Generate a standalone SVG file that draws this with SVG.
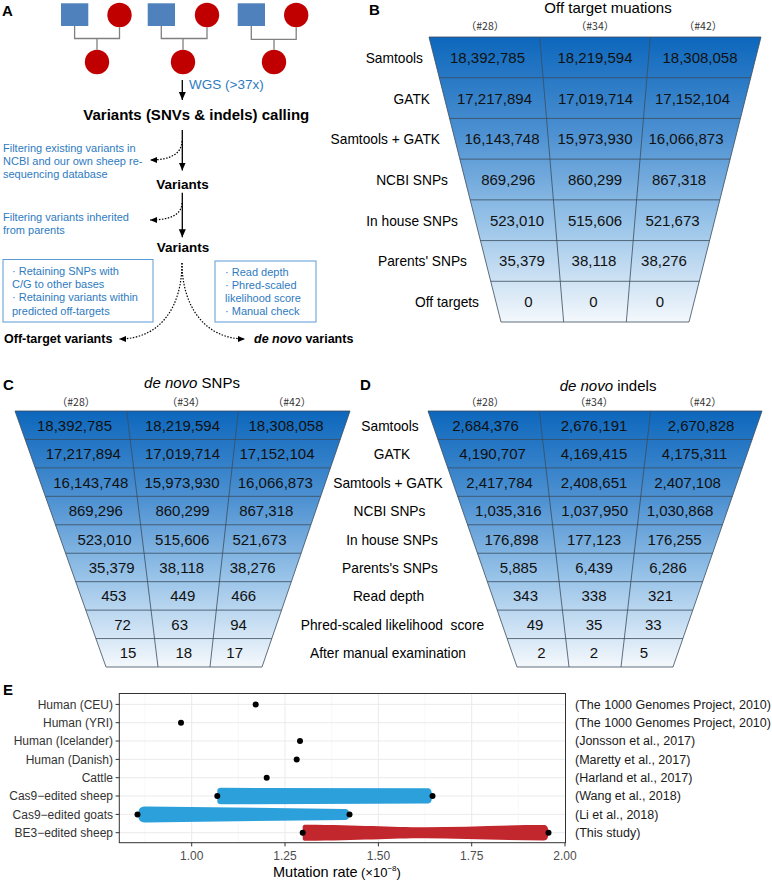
<svg xmlns="http://www.w3.org/2000/svg" width="772" height="881" viewBox="0 0 772 881">
<defs>
<linearGradient id="fg" x1="0" y1="0" x2="0" y2="1">
<stop offset="0" stop-color="#0d67bc"/>
<stop offset="0.35" stop-color="#4f92d2"/>
<stop offset="0.65" stop-color="#98c3e8"/>
<stop offset="1" stop-color="#f4f8fc"/>
</linearGradient>
<marker id="ah" markerUnits="userSpaceOnUse" markerWidth="9" markerHeight="8" refX="8" refY="3.5" orient="auto"><path d="M0,0 L8,3.5 L0,7 z" fill="#000"/></marker>
<marker id="ahs" markerUnits="userSpaceOnUse" markerWidth="8" markerHeight="7" refX="7" refY="3" orient="auto"><path d="M0,0 L7,3 L0,6 z" fill="#000"/></marker>
</defs>
<style>
text{font-family:"Liberation Sans",Arial,sans-serif}
.pl{font-size:15px;font-weight:bold;fill:#000}
.bt{font-size:11px;fill:#2e7bbf}
.bd{font-weight:bold;fill:#000}
.sq{fill:#4f81bd}
.ci{fill:#c00000}
.ped{fill:none;stroke:#808080;stroke-width:1.3}
.sa{fill:none;stroke:#000;stroke-width:1.3}
.da{fill:none;stroke:#000;stroke-width:1.2;stroke-dasharray:1.5 1.5}
.bx{fill:none;stroke:#5b9bd5;stroke-width:1}
.fun{fill:url(#fg);stroke:#3b4d5e;stroke-width:0.8}
.fl{stroke:#3b4d5e;stroke-width:0.8}
.num{font-size:15px;fill:#111;text-anchor:middle}
.lab{font-size:13.75px;fill:#000}
.hd{font-size:10.5px;fill:#333;text-anchor:middle;font-family:"Noto Sans CJK SC","Liberation Sans",sans-serif}
.ttl{font-size:15px;fill:#000;text-anchor:middle}
.cat{font-size:12px;fill:#333;text-anchor:end}
.ref{font-size:12.5px;fill:#1a1a1a}
.tk{font-size:12px;fill:#4d4d4d;text-anchor:middle}
.gmaj{stroke:#ebebeb;stroke-width:1}
.gmin{stroke:#f4f4f4;stroke-width:0.6}
.tick{stroke:#333;stroke-width:1}
.dot{fill:#000}
</style>

<!-- Panel A -->
<g id="panelA">
<text class="pl" x="2" y="16">A</text>
<g id="pedigree">
<rect class="sq" x="61" y="3.3" width="27.3" height="22.7"/>
<circle class="ci" cx="119.5" cy="15" r="12.2"/>
<circle class="ci" cx="97" cy="62" r="12.2"/>
<rect class="sq" x="147.7" y="3.3" width="27.3" height="22.7"/>
<circle class="ci" cx="207" cy="15" r="12.2"/>
<circle class="ci" cx="183" cy="62" r="12.2"/>
<rect class="sq" x="237.7" y="3.3" width="27.3" height="22.7"/>
<circle class="ci" cx="296.2" cy="15" r="12.2"/>
<circle class="ci" cx="274" cy="62" r="12.2"/>
</g>
<g id="pedigree-lines">
<path class="ped" d="M74.6,26 V38.5 H119.5 V27.2 M97,38.5 V49.8"/>
<path class="ped" d="M161.3,26 V38.5 H207 V27.2 M183,38.5 V49.8"/>
<path class="ped" d="M251.3,26 V39.3 H296.2 V27.2 M274,39.3 V49.8"/>
</g>
<g id="connectors">
<line class="sa" x1="182.3" y1="80" x2="182.3" y2="100" marker-end="url(#ah)"/>
<line class="sa" x1="182.3" y1="130" x2="182.3" y2="170.5" marker-end="url(#ah)"/>
<line class="sa" x1="182.3" y1="192.7" x2="182.3" y2="237.3" marker-end="url(#ah)"/>
<path class="da" d="M182,141 C181.5,153 172,160 150,160" marker-end="url(#ahs)"/>
<path class="da" d="M182,203 C181.5,214 172,220 150,220" marker-end="url(#ahs)"/>
<path class="da" d="M182,263 C182,305 162,339 119,339" marker-end="url(#ahs)"/>
<path class="da" d="M182,263 C182,305 204,339 245,339" marker-end="url(#ahs)"/>
</g>
<text x="189" y="89" style="font-size:13.5px;fill:#2e7bbf">WGS (&gt;37x)</text>
<g id="calling"><text class="bd" x="196.3" y="120" text-anchor="middle" style="font-size:15px">Variants (SNVs &amp; indels) calling</text></g>
<text class="bt" x="3" y="152">Filtering existing variants in</text>
<text class="bt" x="3" y="165">NCBI and our own sheep re-</text>
<text class="bt" x="3" y="178">sequencing database</text>
<g id="variants1"><text class="bd" x="182.5" y="189" text-anchor="middle" style="font-size:13.5px">Variants</text></g>
<text class="bt" x="3" y="221">Filtering variants inherited</text>
<text class="bt" x="3" y="234">from parents</text>
<g id="variants2"><text class="bd" x="183" y="252" text-anchor="middle" style="font-size:13.5px">Variants</text></g>
<g id="box-offtarget">
<rect class="bx" x="3" y="259.5" width="150" height="62.5"/>
<text class="bt" x="12" y="275">· Retaining SNPs with</text>
<text class="bt" x="12" y="288">C/G to other bases</text>
<text class="bt" x="12" y="301">· Retaining variants within</text>
<text class="bt" x="12" y="314.5">predicted off-targets</text>
</g>
<g id="box-denovo">
<rect class="bx" x="215" y="261" width="101" height="61"/>
<text class="bt" x="225" y="275.5">· Read depth</text>
<text class="bt" x="225" y="288.5">· Phred-scaled</text>
<text class="bt" x="225" y="302">likelihood score</text>
<text class="bt" x="225" y="315">· Manual check</text>
</g>
<g id="offtarget-variants"><text class="bd" x="4" y="343" style="font-size:12.5px">Off-target variants</text></g>
<g id="denovo-variants"><text class="bd" x="254" y="343" style="font-size:12.5px"><tspan font-style="italic">de novo</tspan> variants</text></g>
</g>

<!-- Panel B -->
<g id="panelB">
<text class="pl" x="369" y="15">B</text>
<text class="ttl" x="608" y="12.5">Off target muations</text>
<text class="hd" x="485" y="30">（#28）</text>
<text class="hd" x="595" y="30">（#34）</text>
<text class="hd" x="703" y="30">（#42）</text>
<path class="fun" d="M429,37 L761,37 L689,322 L501,322 Z"/>
<path class="fl" d="M439.29,77.71 H750.71 M449.57,118.43 H740.43 M459.86,159.14 H730.14 M470.14,199.86 H719.86 M480.43,240.57 H709.57 M490.71,281.29 H699.29 M539.67,37 L563.67,322 M650.33,37 L626.33,322"/>
<text class="lab" text-anchor="end" x="423" y="62.9">Samtools</text>
<text class="lab" text-anchor="end" x="430" y="103.6">GATK</text>
<text class="lab" text-anchor="end" x="440" y="144.3">Samtools + GATK</text>
<text class="lab" text-anchor="end" x="448" y="185">NCBI SNPs</text>
<text class="lab" text-anchor="end" x="458" y="225.7">In house SNPs</text>
<text class="lab" text-anchor="end" x="467" y="266.4">Parents' SNPs</text>
<text class="lab" text-anchor="end" x="479" y="307.1">Off targets</text>
<text class="num" x="487.5" y="62.9">18,392,785</text><text class="num" x="595" y="62.9">18,219,594</text><text class="num" x="700" y="62.9">18,308,058</text>
<text class="num" x="494.5" y="103.6">17,217,894</text><text class="num" x="595.5" y="103.6">17,019,714</text><text class="num" x="692.5" y="103.6">17,152,104</text>
<text class="num" x="502" y="144.3">16,143,748</text><text class="num" x="595" y="144.3">15,973,930</text><text class="num" x="686" y="144.3">16,066,873</text>
<text class="num" x="508.3" y="185">869,296</text><text class="num" x="595" y="185">860,299</text><text class="num" x="679" y="185">867,318</text>
<text class="num" x="517" y="225.7">523,010</text><text class="num" x="595" y="225.7">515,606</text><text class="num" x="672.5" y="225.7">521,673</text>
<text class="num" x="522" y="266.4">35,379</text><text class="num" x="594" y="266.4">38,118</text><text class="num" x="664" y="266.4">38,276</text>
<text class="num" x="528.5" y="307.1">0</text><text class="num" x="593.5" y="307.1">0</text><text class="num" x="660" y="307.1">0</text>
</g>

<!-- Panel C -->
<g id="panelC">
<text class="pl" x="3" y="390">C</text>
<text class="ttl" x="192" y="387.5"><tspan font-style="italic">de novo</tspan> SNPs</text>
<text class="hd" x="76" y="406">（#28）</text>
<text class="hd" x="186" y="406">（#34）</text>
<text class="hd" x="292" y="406">（#42）</text>
<path class="fun" d="M15,411 L350,411 L262,667 L106,667 Z"/>
<path class="fl" d="M25.11,439.44 H340.22 M35.22,467.89 H330.44 M45.33,496.33 H320.67 M55.44,524.78 H310.89 M65.56,553.22 H301.11 M75.67,581.67 H291.33 M85.78,610.11 H281.56 M95.89,638.56 H271.78 M126.67,411 L158,667 M238.33,411 L210,667"/>
<text class="num" x="74.5" y="430.7">18,392,785</text><text class="num" x="182.5" y="430.7">18,219,594</text><text class="num" x="286" y="430.7">18,308,058</text>
<text class="num" x="83.3" y="459.2">17,217,894</text><text class="num" x="182.5" y="459.2">17,019,714</text><text class="num" x="277" y="459.2">17,152,104</text>
<text class="num" x="90.8" y="487.6">16,143,748</text><text class="num" x="182" y="487.6">15,973,930</text><text class="num" x="275.3" y="487.6">16,066,873</text>
<text class="num" x="95.8" y="516.1">869,296</text><text class="num" x="182.5" y="516.1">860,299</text><text class="num" x="266.3" y="516.1">867,318</text>
<text class="num" x="104.5" y="544.5">523,010</text><text class="num" x="182.2" y="544.5">515,606</text><text class="num" x="259.5" y="544.5">521,673</text>
<text class="num" x="111.7" y="572.9">35,379</text><text class="num" x="181.7" y="572.9">38,118</text><text class="num" x="252.7" y="572.9">38,276</text>
<text class="num" x="113.8" y="601.4">453</text><text class="num" x="182.8" y="601.4">449</text><text class="num" x="243.7" y="601.4">466</text>
<text class="num" x="122.5" y="629.8">72</text><text class="num" x="179.7" y="629.8">63</text><text class="num" x="238.5" y="629.8">94</text>
<text class="num" x="128" y="658.3">15</text><text class="num" x="183.8" y="658.3">18</text><text class="num" x="234.7" y="658.3">17</text>
</g>

<!-- Panel D -->
<g id="panelD">
<text class="pl" x="360" y="390">D</text>
<text class="ttl" x="608" y="391"><tspan font-style="italic">de novo</tspan> indels</text>
<text class="hd" x="485" y="406">（#28）</text>
<text class="hd" x="594" y="406">（#34）</text>
<text class="hd" x="702.5" y="406">（#42）</text>
<path class="fun" d="M428,411 L762,411 L673,667 L517,667 Z"/>
<path class="fl" d="M437.89,439.44 H752.11 M447.78,467.89 H742.22 M457.67,496.33 H732.33 M467.56,524.78 H722.44 M477.44,553.22 H712.56 M487.33,581.67 H702.67 M497.22,610.11 H692.78 M507.11,638.56 H682.89 M539.33,411 L569,667 M650.67,411 L621,667"/>
<text class="lab" text-anchor="middle" x="390" y="430.7">Samtools</text>
<text class="lab" text-anchor="middle" x="392" y="459.2">GATK</text>
<text class="lab" text-anchor="middle" x="388" y="487.6">Samtools + GATK</text>
<text class="lab" text-anchor="middle" x="389.5" y="516.1">NCBI SNPs</text>
<text class="lab" text-anchor="middle" x="392" y="544.5">In house SNPs</text>
<text class="lab" text-anchor="middle" x="390" y="572.9">Parents's SNPs</text>
<text class="lab" text-anchor="middle" x="388.5" y="601.4">Read depth</text>
<text class="lab" text-anchor="middle" x="392.5" y="629.8" style="white-space:pre">Phred-scaled likelihood  score</text>
<text class="lab" text-anchor="middle" x="388" y="658.3">After manual examination</text>
<text class="num" x="485.5" y="430.7">2,684,376</text><text class="num" x="594" y="430.7">2,676,191</text><text class="num" x="701" y="430.7">2,670,828</text>
<text class="num" x="492.5" y="459.2">4,190,707</text><text class="num" x="594" y="459.2">4,169,415</text><text class="num" x="694.5" y="459.2">4,175,311</text>
<text class="num" x="499.5" y="487.6">2,417,784</text><text class="num" x="594" y="487.6">2,408,651</text><text class="num" x="687.5" y="487.6">2,407,108</text>
<text class="num" x="508.3" y="516.1">1,035,316</text><text class="num" x="594.7" y="516.1">1,037,950</text><text class="num" x="680" y="516.1">1,030,868</text>
<text class="num" x="511.5" y="544.5">176,898</text><text class="num" x="594" y="544.5">177,123</text><text class="num" x="674.5" y="544.5">176,255</text>
<text class="num" x="518.5" y="572.9">5,885</text><text class="num" x="594" y="572.9">6,439</text><text class="num" x="668" y="572.9">6,286</text>
<text class="num" x="525.5" y="601.4">343</text><text class="num" x="594" y="601.4">338</text><text class="num" x="660.5" y="601.4">321</text>
<text class="num" x="535" y="629.8">49</text><text class="num" x="594" y="629.8">35</text><text class="num" x="653.3" y="629.8">33</text>
<text class="num" x="541.5" y="658.3">2</text><text class="num" x="594" y="658.3">2</text><text class="num" x="644" y="658.3">5</text>
</g>

<!-- Panel E -->
<g id="panelE">
<text class="pl" x="3" y="695">E</text>
<g id="grid">
<path class="gmin" d="M145,693.5 V842.7 M238.4,693.5 V842.7 M331.7,693.5 V842.7 M425,693.5 V842.7 M518.3,693.5 V842.7"/>
<path class="gmaj" d="M191.7,693.5 V842.7 M285,693.5 V842.7 M378.4,693.5 V842.7 M471.7,693.5 V842.7 M119.3,704.4 H565.5 M119.3,722.7 H565.5 M119.3,741 H565.5 M119.3,759.4 H565.5 M119.3,777.7 H565.5 M119.3,796 H565.5 M119.3,814.4 H565.5 M119.3,832.7 H565.5"/>
</g>
<g id="bars">
<path fill="#2ba0da" d="M217.3,791 C217.3,788.8 218.5,787.8 221,787.8 L427,788.3 C430.5,788.3 432,790 432,796 C432,802 430.5,803.5 427,803.5 L221,804.3 C218.5,804.3 217.3,803.2 217.3,801 Z"/>
<path fill="#2ba0da" d="M138.3,814.4 C138.3,808.5 140,806.4 146,806.4 L345,808.9 C348,808.9 349.3,811 349.3,814.4 C349.3,817.8 348,819.9 345,819.9 L146,822.4 C140,822.4 138.3,820.3 138.3,814.4 Z"/>
<path fill="#c1272d" d="M302.7,827 C302.7,825.2 303.5,824.7 306,824.7 C360,825 390,827.2 425,827.2 C462,827.2 500,825 544,825 C547,825 548.3,827 548.3,832.7 C548.3,838.4 547,840.4 544,840.4 C500,840.4 462,838.2 425,838.2 C390,838.2 360,840.4 306,840.7 C303.5,840.7 302.7,840.2 302.7,838.4 Z"/>
</g>
<g id="points">
<circle class="dot" cx="255.7" cy="704.4" r="3"/>
<circle class="dot" cx="181" cy="722.7" r="3"/>
<circle class="dot" cx="300" cy="741" r="3"/>
<circle class="dot" cx="296.7" cy="759.4" r="3"/>
<circle class="dot" cx="266.7" cy="777.7" r="3"/>
<circle class="dot" cx="217.3" cy="796" r="3"/>
<circle class="dot" cx="432.5" cy="796" r="3"/>
<circle class="dot" cx="137.5" cy="814.4" r="3"/>
<circle class="dot" cx="349.5" cy="814.4" r="3"/>
<circle class="dot" cx="302.7" cy="832.7" r="3"/>
<circle class="dot" cx="548.5" cy="832.7" r="3"/>
</g>
<rect x="119.3" y="693.5" width="446.2" height="149.2" fill="none" stroke="#333" stroke-width="1"/>
<path class="tick" d="M115.6,704.4 H119.3 M115.6,722.7 H119.3 M115.6,741 H119.3 M115.6,759.4 H119.3 M115.6,777.7 H119.3 M115.6,796 H119.3 M115.6,814.4 H119.3 M115.6,832.7 H119.3 M191.7,842.7 V846.4 M285,842.7 V846.4 M378.4,842.7 V846.4 M471.7,842.7 V846.4 M565,842.7 V846.4"/>
<text class="cat" x="113" y="708.6">Human (CEU)</text>
<text class="cat" x="113" y="726.9">Human (YRI)</text>
<text class="cat" x="113" y="745.2">Human (Icelander)</text>
<text class="cat" x="113" y="763.6">Human (Danish)</text>
<text class="cat" x="113" y="781.9">Cattle</text>
<text class="cat" x="113" y="800.2">Cas9−edited sheep</text>
<text class="cat" x="113" y="818.6">Cas9−edited goats</text>
<text class="cat" x="113" y="836.9">BE3−edited sheep</text>
<text class="ref" x="575" y="708.8">(The 1000 Genomes Project, 2010)</text>
<text class="ref" x="575" y="727.1">(The 1000 Genomes Project, 2010)</text>
<text class="ref" x="575" y="745.4">(Jonsson et al., 2017)</text>
<text class="ref" x="575" y="763.8">(Maretty et al., 2017)</text>
<text class="ref" x="575" y="782.1">(Harland et al., 2017)</text>
<text class="ref" x="575" y="800.4">(Wang et al., 2018)</text>
<text class="ref" x="575" y="818.8">(Li et al., 2018)</text>
<text class="ref" x="575" y="837.1">(This study)</text>
<text class="tk" x="191.7" y="860">1.00</text>
<text class="tk" x="285" y="860">1.25</text>
<text class="tk" x="378.4" y="860">1.50</text>
<text class="tk" x="471.7" y="860">1.75</text>
<text class="tk" x="565" y="860">2.00</text>
<text x="273" y="876.5" style="font-size:14.5px;fill:#000">Mutation rate</text>
<text x="361" y="876.5" style="font-size:13px;fill:#000">(×10<tspan font-size="8" dy="-5.5">−8</tspan><tspan dy="5.5">)</tspan></text>
</g>
</svg>
